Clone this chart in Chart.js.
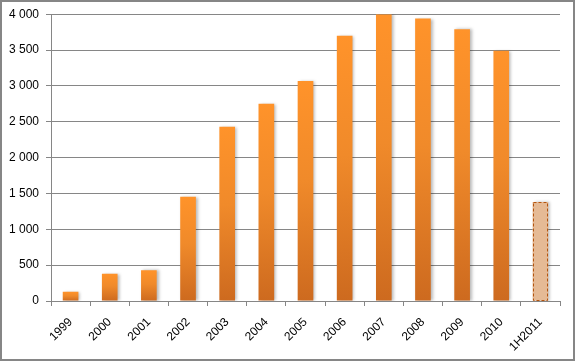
<!DOCTYPE html>
<html><head><meta charset="utf-8">
<script src="https://cdn.jsdelivr.net/npm/chart.js@4/dist/chart.umd.min.js"></script>
<style>html,body{margin:0;padding:0;background:#fff;}#wrap{width:575px;height:361px;position:relative;}</style>
</head><body><div id="wrap"><canvas id="c" width="575" height="361"></canvas></div>
<script>
const categories = ['1999','2000','2001','2002','2003','2004','2005','2006','2007','2008','2009','2010','1H2011'];
const values = [130, 380, 430, 1455, 2430, 2750, 3070, 3700, 4000, 3940, 3790, 3490, 1380];
const yTicks = [0, 500, 1000, 1500, 2000, 2500, 3000, 3500, 4000];
const partialIndex = 12;

function fmt(v){ return String(v).replace(/\B(?=(\d{3})+(?!\d))/g, '\u00a0'); }

const shadowPlugin = {
  id: 'shadow',
  beforeDatasetsDraw(chart){ const ctx = chart.ctx; ctx.save(); ctx.shadowColor='rgba(0,0,0,0.28)'; ctx.shadowOffsetX=2; ctx.shadowOffsetY=0; ctx.shadowBlur=3; },
  afterDatasetsDraw(chart){
    const ctx = chart.ctx; ctx.restore();
    const el = chart.getDatasetMeta(0).data[partialIndex];
    if(!el) return;
    const left = Math.round(el.x - el.width/2)+0.5, right = Math.round(el.x + el.width/2)-0.5;
    const top = Math.round(el.y)+0.5, bottom = Math.round(el.base)-0.5;
    ctx.save(); ctx.strokeStyle='#B4550E'; ctx.lineWidth=1; ctx.setLineDash([3,2]);
    ctx.strokeRect(left, top, right-left, bottom-top); ctx.restore();
  },
  afterDraw(chart){ const ctx=chart.ctx; ctx.save(); ctx.strokeStyle='#868686'; ctx.lineWidth=2; ctx.strokeRect(1,1,573,359); ctx.restore(); }
};

new Chart(document.getElementById('c'), {
  type: 'bar',
  data: { labels: categories, datasets: [{
    data: values,
    backgroundColor(ctx){
      const chart = ctx.chart; const ca = chart.chartArea;
      if(!ca || ctx.dataIndex === undefined) return '#F08A2A';
      if(ctx.dataIndex === partialIndex) return '#E5BA95';
      const y = chart.scales.y;
      const top = y.getPixelForValue(values[ctx.dataIndex]); const bottom = y.getPixelForValue(0);
      const g = chart.ctx.createLinearGradient(0, top, 0, bottom);
      g.addColorStop(0, '#FF932A'); g.addColorStop(0.45, '#F08A2A'); g.addColorStop(1, '#CD6A1F');
      return g;
    },
    borderWidth: 0,
    categoryPercentage: 1.0,
    barPercentage: 0.40
  }]},
  options: {
    responsive: false, animation: false,
    layout: { padding: { top: 14, right: 15, left: 0, bottom: 0 } },
    plugins: { legend: { display: false }, tooltip: { enabled: false } },
    scales: {
      x: {
        grid: { display: true, offset: true, drawOnChartArea: false, drawTicks: true, tickLength: 5, color: '#868686' },
        border: { color: '#868686' },
        ticks: { color: '#000', font: { family: 'Liberation Sans', size: 12 }, maxRotation: 45, minRotation: 45, padding: 9 },
        afterFit(s){ s.height = 60; }
      },
      y: {
        min: 0, max: 4000,
        afterBuildTicks(s){ s.ticks = yTicks.map(v => ({ value: v })); },
        grid: { color: '#868686', tickLength: 5, drawTicks: true },
        border: { color: '#868686' },
        ticks: { color: '#000', font: { family: 'Liberation Sans', size: 12 }, padding: 7, callback: v => fmt(v) },
        afterFit(s){ s.width = 51; }
      }
    }
  },
  plugins: [shadowPlugin]
});
</script></body></html>
